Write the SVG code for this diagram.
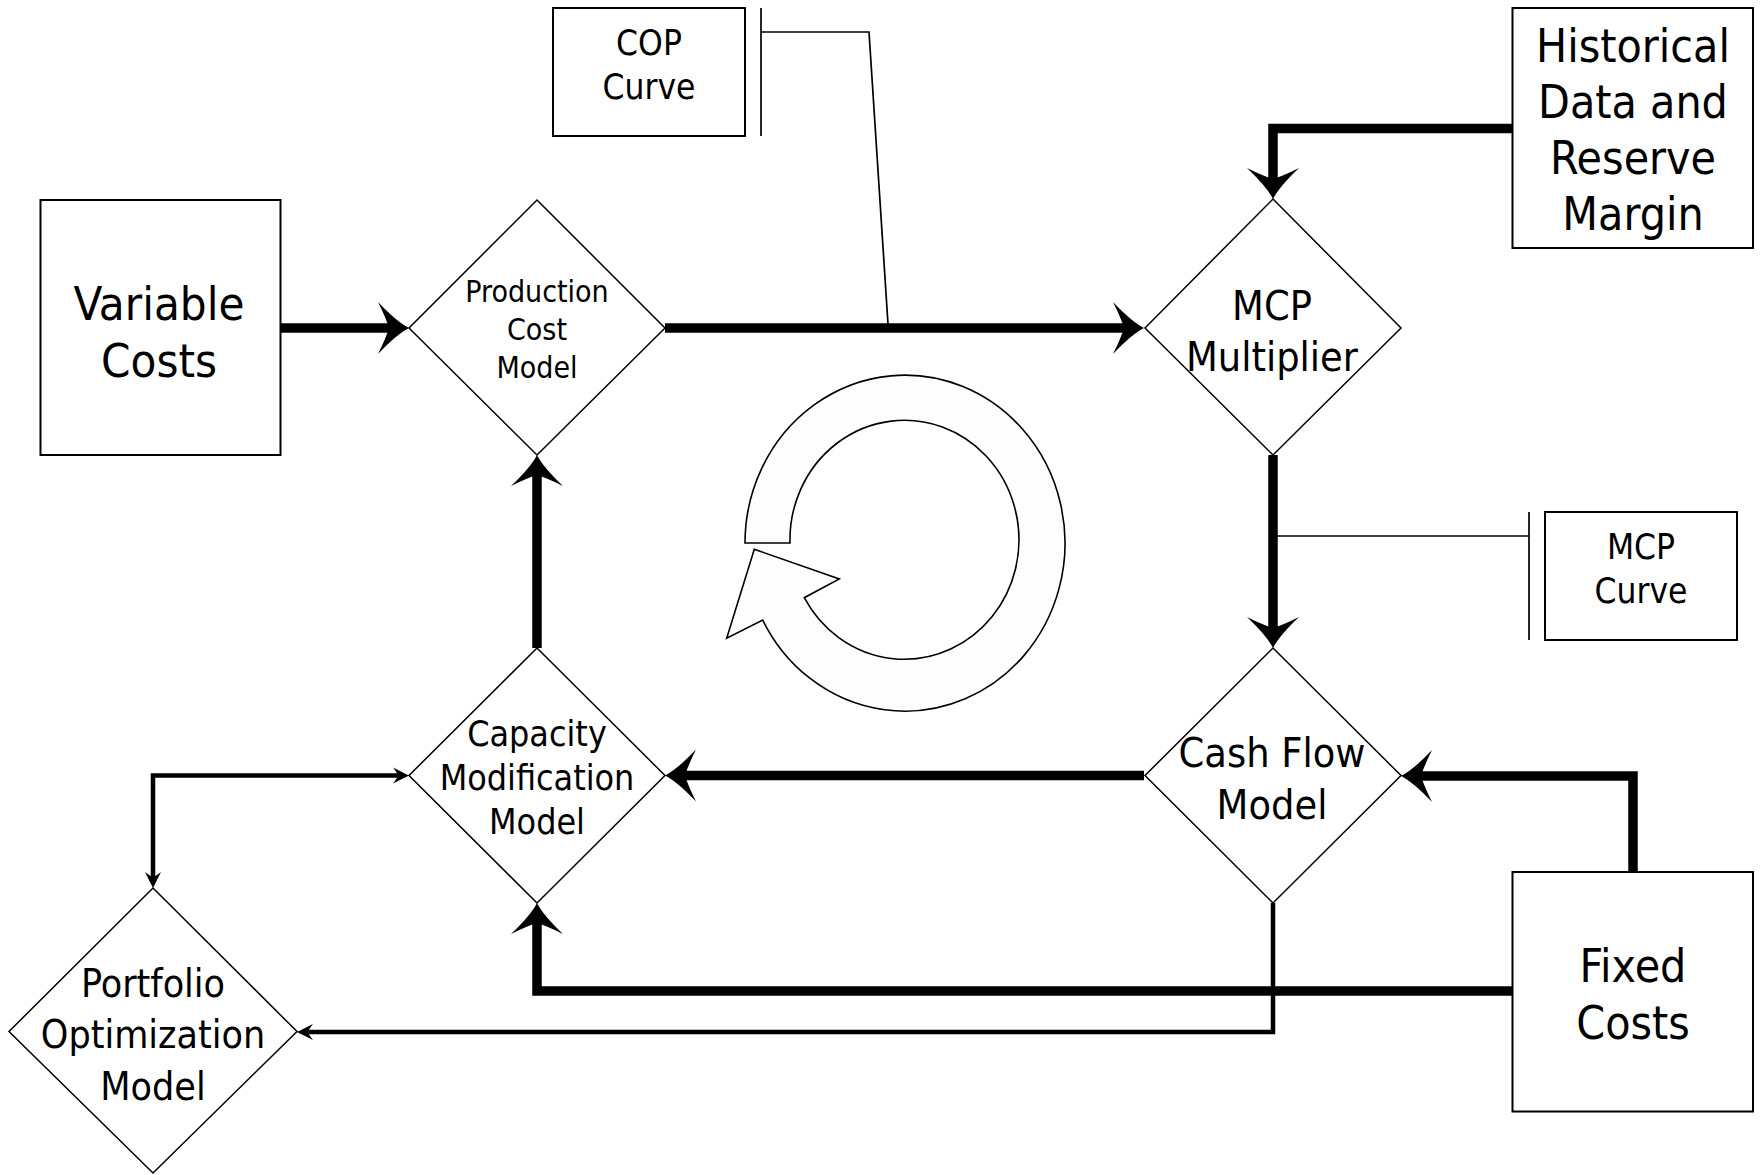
<svg xmlns="http://www.w3.org/2000/svg" width="1762" height="1175" viewBox="0 0 1762 1175">
<style>
.box{fill:#fff;stroke:#000;stroke-width:2}
.dia{fill:#fff;stroke:#000;stroke-width:1.5}
.t{font-family:"DejaVu Sans Condensed","DejaVu Sans",sans-serif;text-anchor:middle;fill:#000}
.thick{fill:none;stroke:#000;stroke-width:9.5;stroke-linejoin:miter}
.thin{fill:none;stroke:#000;stroke-width:4.5;stroke-linejoin:miter}
.ann{fill:none;stroke:#000;stroke-width:1.7}
</style>
<defs>
<marker id="big" markerUnits="userSpaceOnUse" orient="auto" refX="0" refY="0" markerWidth="60" markerHeight="60" overflow="visible">
<path d="M18,0 Q6,-6 -13,-26 Q-5,-10 -2,0 Q-5,10 -13,26 Q6,6 18,0 Z" fill="#000"/>
</marker>
<marker id="small" markerUnits="userSpaceOnUse" orient="auto-start-reverse" refX="0" refY="0" markerWidth="30" markerHeight="30" overflow="visible">
<path d="M9,0 Q3,-3 -7,-8 Q-3,-3 -2,0 Q-3,3 -7,8 Q3,3 9,0 Z" fill="#000"/>
</marker>
</defs>
<rect width="1762" height="1175" fill="#fff"/>

<g id="connectors">
<path class="thick" d="M281,328 H391" marker-end="url(#big)"/>
<path class="thick" d="M665,328 H1126" marker-end="url(#big)"/>
<path class="thick" d="M1512,128.5 H1273 V181" marker-end="url(#big)"/>
<path class="thick" d="M1273,455 V630" marker-end="url(#big)"/>
<path class="thick" d="M1144,775.5 H683" marker-end="url(#big)"/>
<path class="thick" d="M537,648 V473" marker-end="url(#big)"/>
<path class="thick" d="M1633,872 V776 H1419" marker-end="url(#big)"/>
<path class="thick" d="M1512,991 H537 V921" marker-end="url(#big)"/>
<path class="thin" d="M1273,903 V1032 H306" marker-end="url(#small)"/>
<path class="thin" d="M400,775.5 H153 V879" marker-start="url(#small)" marker-end="url(#small)"/>
<path class="ann" d="M761,8 V136 M761,32 H869 L888,324"/>
<path class="ann" d="M1529,512 V640 M1273,536 H1529"/>
</g>

<g id="cycle">
<path d="M745,543 A160,168 0 1 1 762.7,620 L726.7,638.3 L754.3,549.3 L839.3,579 L804.3,597.7 A114.5,119.5 0 1 0 790,543 Z" fill="#fdfdfd" stroke="#000" stroke-width="1.6" stroke-linejoin="miter"/>
</g>

<g id="variable-costs">
<rect class="box" x="40.5" y="200" width="240" height="255"/>
<text class="t" font-size="47" x="159" y="320">Variable</text>
<text class="t" font-size="47" x="159" y="377">Costs</text>
</g>

<g id="production-cost-model">
<polygon class="dia" points="537,200 665,328 537,455 409,328"/>
<text class="t" font-size="30" x="537" y="302">Production</text>
<text class="t" font-size="30" x="537" y="340">Cost</text>
<text class="t" font-size="30" x="537" y="378">Model</text>
</g>

<g id="cop-curve">
<rect class="box" x="553" y="8" width="192" height="128"/>
<text class="t" font-size="35" x="649" y="55">COP</text>
<text class="t" font-size="35" x="649" y="99">Curve</text>
</g>

<g id="historical-data">
<rect class="box" x="1512.5" y="8" width="240.5" height="240"/>
<text class="t" font-size="46" x="1633" y="62">Historical</text>
<text class="t" font-size="46" x="1633" y="118">Data and</text>
<text class="t" font-size="46" x="1633" y="174">Reserve</text>
<text class="t" font-size="46" x="1633" y="230">Margin</text>
</g>

<g id="mcp-multiplier">
<polygon class="dia" points="1273,199 1401,328 1273,455 1145,328"/>
<text class="t" font-size="41" x="1272" y="320">MCP</text>
<text class="t" font-size="41" x="1272" y="371">Multiplier</text>
</g>

<g id="mcp-curve">
<rect class="box" x="1545" y="512" width="192" height="128"/>
<text class="t" font-size="35" x="1641" y="559">MCP</text>
<text class="t" font-size="35" x="1641" y="603">Curve</text>
</g>

<g id="cash-flow-model">
<polygon class="dia" points="1273,648 1401,775.5 1273,903 1145,775.5"/>
<text class="t" font-size="41" x="1272" y="767">Cash Flow</text>
<text class="t" font-size="41" x="1272" y="819">Model</text>
</g>

<g id="capacity-modification-model">
<polygon class="dia" points="537,648 665,775.5 537,903 409,775.5"/>
<text class="t" font-size="35.5" x="537" y="746">Capacity</text>
<text class="t" font-size="35.5" x="537" y="790">Modification</text>
<text class="t" font-size="35.5" x="537" y="834">Model</text>
</g>

<g id="portfolio-optimization-model">
<polygon class="dia" points="153,888 297,1031.5 153,1173 9,1031.5"/>
<text class="t" font-size="39" x="153" y="997">Portfolio</text>
<text class="t" font-size="39" x="153" y="1048">Optimization</text>
<text class="t" font-size="39" x="153" y="1100">Model</text>
</g>

<g id="fixed-costs">
<rect class="box" x="1512.5" y="872" width="240.5" height="239.5"/>
<text class="t" font-size="46" x="1633" y="982">Fixed</text>
<text class="t" font-size="46" x="1633" y="1039">Costs</text>
</g>
</svg>
